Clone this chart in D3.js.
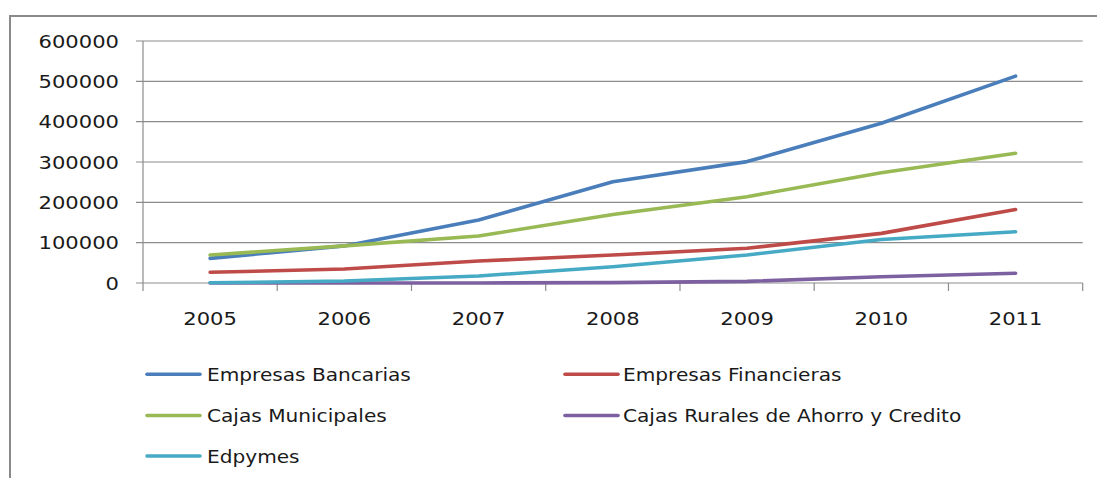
<!DOCTYPE html>
<html><head><meta charset="utf-8">
<script src="https://cdn.jsdelivr.net/npm/d3@7"></script>
<style>body{margin:0;background:#fff;} svg{display:block;}</style>
</head><body>
<script>
const years = ["2005","2006","2007","2008","2009","2010","2011"];
const bancarias = [61000, 92000, 156000, 251000, 301000, 396000, 513000];
const financieras = [26500, 34700, 54500, 69400, 86000, 123000, 182000];
const municipales = [69400, 92000, 116500, 170000, 214000, 273500, 321500];
const rurales = [0, 0, 0, 1000, 4000, 15600, 24000];
const edpymes = [500, 5000, 17400, 40400, 69400, 108000, 127200];
const yTicks = [0, 100000, 200000, 300000, 400000, 500000, 600000];

const series = [
  {name:"Empresas Bancarias", values:bancarias, color:"#4A7EBB"},
  {name:"Empresas Financieras", values:financieras, color:"#BE4B48"},
  {name:"Cajas Municipales", values:municipales, color:"#98B954"},
  {name:"Cajas Rurales de Ahorro y Credito", values:rurales, color:"#7D60A0"},
  {name:"Edpymes", values:edpymes, color:"#46AAC5"}
];

(function(){
const W = 1097, H = 478;
const svg = d3.select("body").append("svg").attr("width", W).attr("height", H);
const FONT = "DejaVu Sans";
const SX = 1.14, LSX = 1.10;

svg.append("rect").attr("x",10).attr("y",16).attr("width",1200).attr("height",600)
  .attr("fill","none").attr("stroke","#8a8a8a").attr("stroke-width",2);

const pLeft = 143, pRight = 1082.7, pTop = 41, pBottom = 283;
const x = d3.scaleBand().domain(years).range([pLeft, pRight]);
const y = d3.scaleLinear().domain([0, 600000]).range([pBottom, pTop]);

svg.append("g").selectAll("line").data(yTicks).join("line")
  .attr("x1", pLeft - 7).attr("x2", pRight)
  .attr("y1", d => y(d)).attr("y2", d => y(d))
  .attr("stroke", "#8c8c8c").attr("stroke-width", 1.2);

svg.append("line").attr("x1", pLeft).attr("x2", pLeft).attr("y1", pTop).attr("y2", pBottom)
  .attr("stroke", "#8c8c8c").attr("stroke-width", 1.2);

const bounds = years.map(d => x(d)).concat([pRight]);
svg.append("g").selectAll("line").data(bounds).join("line")
  .attr("x1", d => d).attr("x2", d => d).attr("y1", pBottom).attr("y2", pBottom + 8)
  .attr("stroke", "#8c8c8c").attr("stroke-width", 1.2);

svg.append("g").selectAll("text").data(yTicks).join("text")
  .attr("transform", d => `translate(119,${y(d)}) scale(${SX},1)`)
  .attr("text-anchor", "end").attr("dy", "0.36em")
  .attr("font-family", FONT).attr("font-size", 18.5).attr("fill", "#1a1a1a")
  .text(d => d);

svg.append("g").selectAll("text").data(years).join("text")
  .attr("transform", d => `translate(${x(d) + x.bandwidth()/2},325) scale(${SX},1)`)
  .attr("text-anchor", "middle")
  .attr("font-family", FONT).attr("font-size", 18.5).attr("fill", "#1a1a1a")
  .text(d => d);

const line = d3.line().x((d,i) => x(years[i]) + x.bandwidth()/2).y(d => y(d));
svg.append("g").selectAll("path").data(series).join("path")
  .attr("d", s => line(s.values)).attr("fill", "none")
  .attr("stroke", s => s.color).attr("stroke-width", 3.6)
  .attr("stroke-linejoin", "round").attr("stroke-linecap", "round");

const legPos = [[147,374.3],[565,374.3],[147,415.5],[565,415.5],[147,456]];
const lg = svg.append("g").selectAll("g").data(series).join("g")
  .attr("transform", (s,i) => `translate(${legPos[i][0]},${legPos[i][1]})`);
lg.append("line").attr("x1", 0).attr("x2", 53).attr("y1", 0).attr("y2", 0)
  .attr("stroke", s => s.color).attr("stroke-width", 3.6).attr("stroke-linecap", "round");
lg.append("text").attr("transform", (s,i) => `translate(${i % 2 ? 58 : 60},0) scale(${LSX},1)`).attr("dy", "0.36em")
  .attr("font-family", FONT).attr("font-size", 18.3).attr("fill", "#1a1a1a")
  .text(s => s.name);
})();
</script>
</body></html>
